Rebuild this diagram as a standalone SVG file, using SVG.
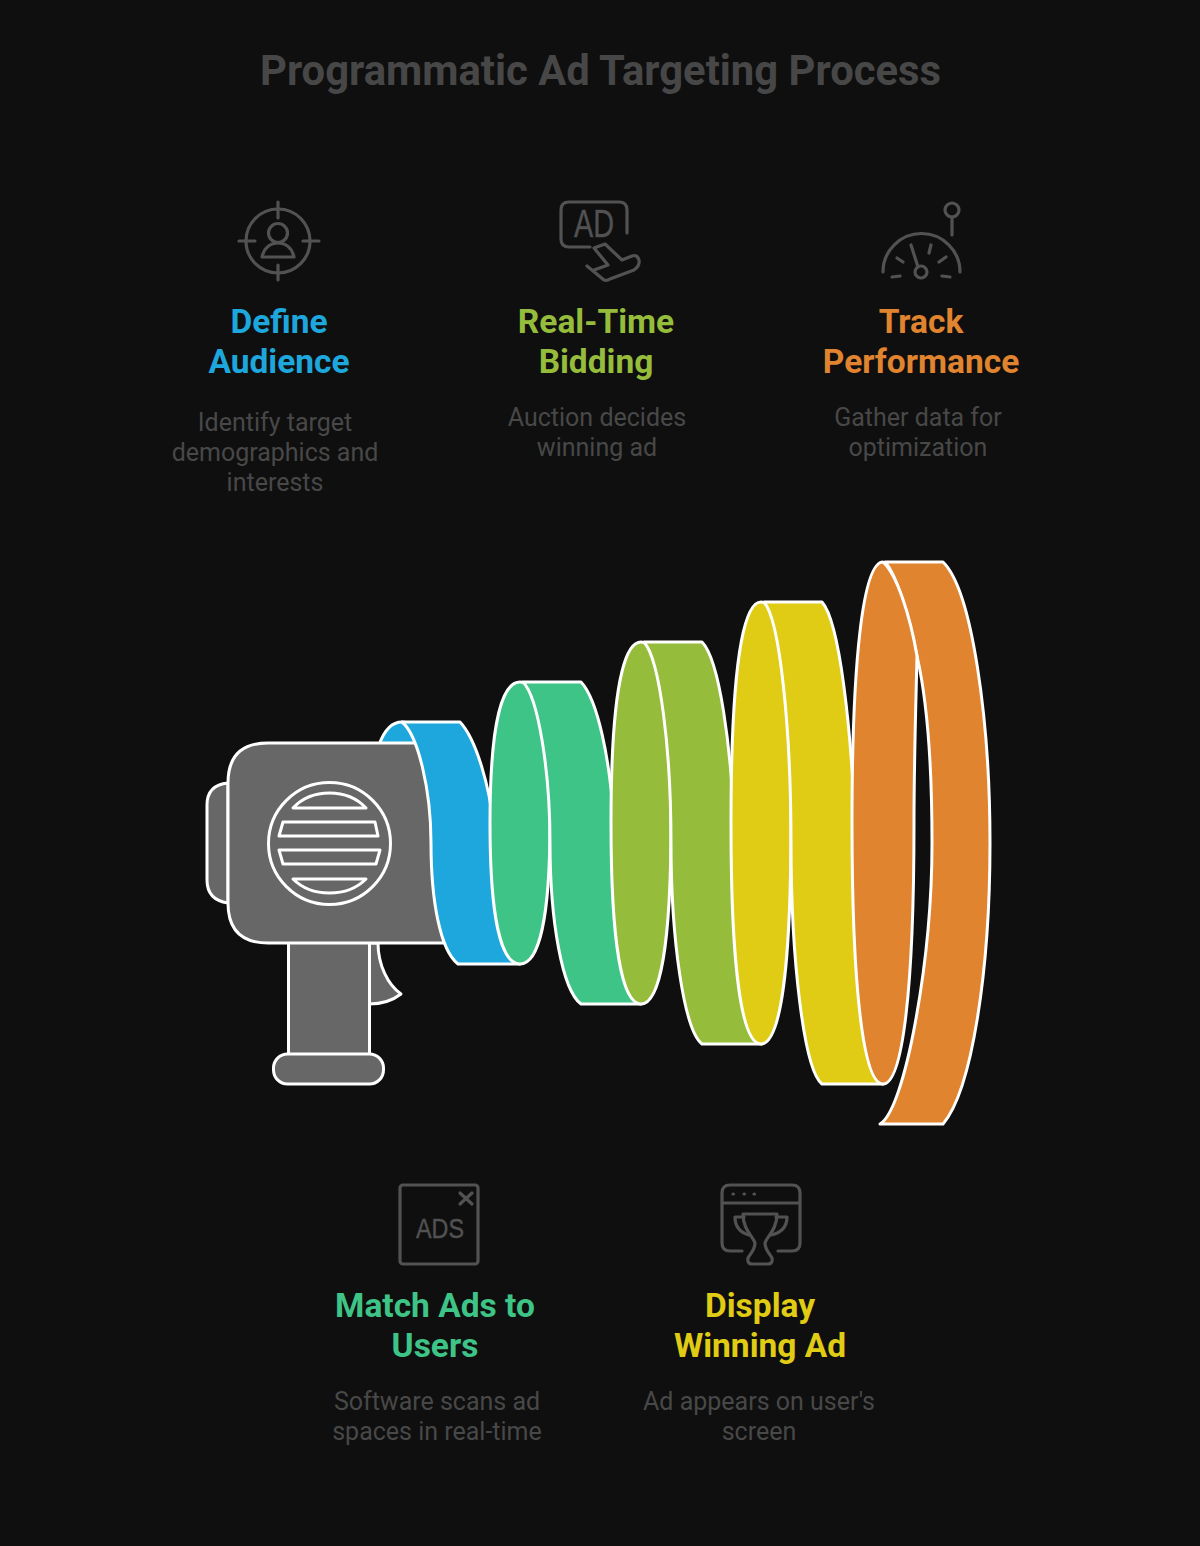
<svg xmlns="http://www.w3.org/2000/svg" width="1200" height="1546" viewBox="0 0 1200 1546">
<style>
text{font-family:Roboto,"Liberation Sans",sans-serif;text-anchor:middle}
.t{font-size:41.800px;font-weight:700;fill:#474747}
.h{font-size:33.500px;font-weight:700}
.d{font-size:25px;fill:#484848}
.i{fill:none;stroke:#525252;stroke-width:3.200;stroke-linecap:round;stroke-linejoin:round}
.l{font-size:38px;fill:#525252;stroke:#525252;stroke-width:.4px;font-family:"Liberation Sans",sans-serif}
.s{stroke:#fff;stroke-width:3;stroke-linejoin:round}
.g{fill:#676767}.n{fill:none}
.b{fill:#1ea7dc}.e{fill:#3ec487}.o{fill:#96bc3c}.y{fill:#e0cc14}.r{fill:#e08430}
</style>
<rect width="1200" height="1546" fill="#0f0f0f"/>
<text class="t" x="600.500" y="85">Programmatic Ad Targeting Process</text>

<g id="define-audience">
<g class="i"><circle cx="278" cy="241" r="32"/><path d="M278 202V218M278 265V280M239 241H255M303 241H319"/><circle cx="278" cy="233" r="9.500"/><path d="M262 257C264 248 270 243 278 243C286 243 292 248 294 257Z"/></g>
<text class="h" fill="#1ea7dc" x="279" y="333">Define</text><text class="h" fill="#1ea7dc" x="279" y="373">Audience</text>
<text class="d" x="275" y="431">Identify target</text><text class="d" x="275" y="461">demographics and</text><text class="d" x="275" y="491">interests</text>
</g>
<g id="real-time-bidding">
<g class="i"><path d="M590 247H569Q561 247 561 239V210Q561 202 569 202H619Q627 202 627 210V233"/><path d="M587 266L604 280Q607 281 610 279L634 270Q640 266 639 260Q637 254 632 256L622 260L605 244L594 248L608 265L594 270"/></g>
<text class="l" x="594" y="237" textLength="40" lengthAdjust="spacingAndGlyphs">AD</text>
<text class="h" fill="#96bc3c" x="596" y="333">Real-Time</text><text class="h" fill="#96bc3c" x="596" y="373">Bidding</text>
<text class="d" x="597" y="426">Auction decides</text><text class="d" x="597" y="456">winning ad</text>
</g>
<g id="track-performance">
<g class="i"><path d="M883 272A38.500 38.500 0 0 1 960 272"/><path d="M911 245L918 267"/><circle cx="921" cy="272" r="6"/><path d="M892 277L900 276M897 258L903 262M931 245L929 253M946 257L939 262M942 276L950 277M952 217V235"/><circle cx="952" cy="210" r="7"/></g>
<text class="h" fill="#e08430" x="921" y="333">Track</text><text class="h" fill="#e08430" x="921" y="373">Performance</text>
<text class="d" x="918" y="426">Gather data for</text><text class="d" x="918" y="456">optimization</text>
</g>

<g id="megaphone">
<path class="s b" d="M379 745C384 731 392 722 402 722C412 722 420 735 424 750L400 760Z"/>
<path class="s g" d="M228 783Q207 785 207 805V880Q207 900 228 903Z"/>
<path class="s g" d="M369 943H378C378 965 388 985 401 994C392 1001 380 1004 369 1004Z"/>
<rect class="s g" x="288.500" y="940" width="81" height="116"/>
<rect class="s g" x="273.500" y="1054" width="110" height="30" rx="14"/>
<path class="s g" d="M268 743H450V943H268Q228 943 228 903V783Q228 743 268 743Z"/>
<circle class="s n" cx="329.500" cy="843.500" r="61"/>
<path class="s n" d="M293 808H366Q352 793 329.500 793Q307 793 293 808ZM283 822H375L378 836H279ZM279 850H380L376 864H283ZM293 879H366Q352 893 329.500 893Q307 893 293 879Z"/>
</g>

<g id="coils">
<path class="s b" d="M402 722H460C477 740 490 790 493 823H520V964H458C440 950 431 900 431 843C431 790 418 735 402 722Z"/>
<path class="s e" d="M520 682C500.500 682 490 731 490 823C490 915 500.500 964 520 964C539.500 964 550 915 550 823C550 731 539.500 682 520 682Z"/>
<path class="s e" d="M523 682H581C598 700 610 760 614 823H641V1004H581C562 990 550 920 550 843C550 770 538 697 523 682Z"/>
<path class="s o" d="M641 642C621.500 642 611 705 611 823C611 941 621.500 1004 641 1004C660.500 1004 671 941 671 823C671 705 660.500 642 641 642Z"/>
<path class="s o" d="M644 642H702C720 660 731 750 734 823H761V1044H702C684 1030 671 940 671 843C671 750 660 660 644 642Z"/>
<path class="s y" d="M761 602C741.500 602 731 679 731 823C731 967 741.500 1044 761 1044C780.500 1044 791 967 791 823C791 679 780.500 602 761 602Z"/>
<path class="s y" d="M764 602H822C840 622 851 730 855 823H883V1084H822C804 1070 791 960 791 843C791 730 780 620 764 602Z"/>
<path class="s r" d="M885 562H943C972 590 990 720 990 843C990 970 972 1090 943 1124H880C905 1110 932 960 932 843C932 760 927 700 917 656C910 620 897 575 885 562Z"/>
<path class="s r" d="M883 562C863 562 852 660 852 823C852 986 863 1084 883 1084C903 1084 914 986 914 823C914 760 916 700 917 656C910 615 897 575 883 562Z"/>
</g>

<g id="match-ads">
<g class="i"><rect x="400" y="1185" width="78" height="79" rx="3"/><path d="M460 1193L472 1204M472 1193L460 1204"/></g>
<text class="l" style="font-size:28px" x="440" y="1238" textLength="48" lengthAdjust="spacingAndGlyphs">ADS</text>
<text class="h" fill="#3ec487" x="435" y="1317">Match Ads to</text><text class="h" fill="#3ec487" x="435" y="1357">Users</text>
<text class="d" x="437" y="1410">Software scans ad</text><text class="d" x="437" y="1440">spaces in real-time</text>
</g>
<g id="display-ad">
<g class="i"><path d="M742 1251H730Q722 1251 722 1243V1193Q722 1185 730 1185H792Q800 1185 800 1193V1243Q800 1251 792 1251H778M722 1203H800M733 1194H733.500M744 1194H744.500M754 1194H754.500"/><path d="M743 1214H777C777 1230 767 1236 765 1243C765 1250 770 1254 772 1258Q773 1264 768 1264H752Q747 1264 748 1258C750 1254 755 1250 755 1243C753 1236 743 1230 743 1214Z"/><path d="M744 1217H735C735 1228 742 1233 749 1235M776 1217H787C787 1228 780 1233 771 1235"/></g>
<text class="h" fill="#e0cc14" x="760" y="1317">Display</text><text class="h" fill="#e0cc14" x="760" y="1357">Winning Ad</text>
<text class="d" x="759" y="1410">Ad appears on user's</text><text class="d" x="759" y="1440">screen</text>
</g>
</svg>
